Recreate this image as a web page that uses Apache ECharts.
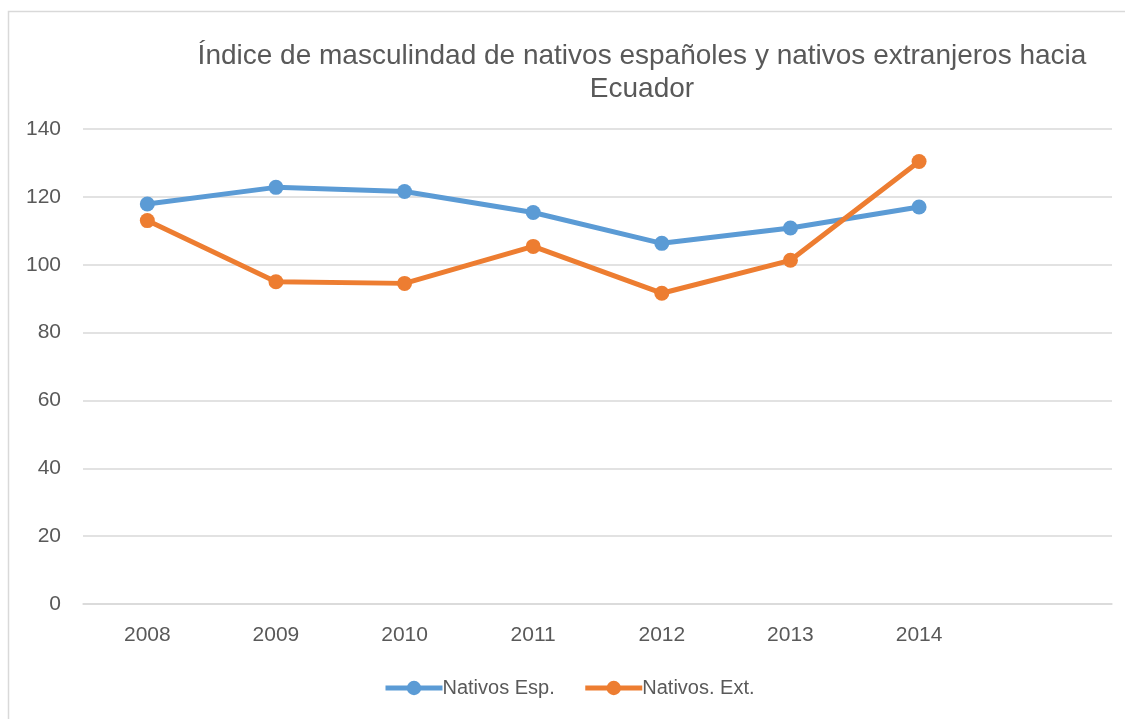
<!DOCTYPE html>
<html lang="es">
<head>
    <meta charset="UTF-8">
    <title>Índice de masculinidad</title>
    <script src="https://cdn.jsdelivr.net/npm/echarts@6/dist/echarts.min.js"></script>
</head>
<style>
    * {
        margin: 0px;
        padding: 0px;
    }
    html, body {
        width: 100%;
        height: 100%;
        overflow: hidden;
        background: #fff;
    }
    .container {
        width: 1125px;
        height: 719px;
    }
</style>
<body>
    <div class="container"></div>
</body>
<script>
    // años (la última categoría queda vacía, como en el original)
    let years = ['2008', '2009', '2010', '2011', '2012', '2013', '2014', ''];
    let nativosEsp = [117.9, 122.8, 121.6, 115.4, 106.3, 110.8, 117.0];
    let nativosExt = [113.0, 95.0, 94.5, 105.4, 91.6, 101.3, 130.4];

    let container = document.querySelector('.container');
    let mycharts = echarts.init(container);

    let txt = '#595959';
    let font = '"Liberation Sans", Arial, sans-serif';

    let option = {
        backgroundColor: '#fff',
        animation: false,
        title: {
            text: 'Índice de masculindad de nativos españoles y nativos extranjeros hacia\nEcuador',
            left: 637,
            top: 35,
            textAlign: 'center',
            textStyle: {
                fontFamily: font,
                fontWeight: 'normal',
                fontSize: 28,
                lineHeight: 33,
                color: txt
            }
        },
        legend: {
            data: ['Nativos Esp.', 'Nativos. Ext.'],
            left: 383,
            top: 678,
            padding: 0,
            itemWidth: 57,
            itemHeight: 18,
            itemGap: 28,
            lineStyle: { width: 5 },
            textStyle: {
                fontFamily: font,
                fontSize: 20,
                color: txt,
                padding: [0, 0, 0, -5]
            }
        },
        grid: {
            left: 83,
            right: 13,
            top: 129,
            bottom: 115,
            containLabel: false
        },
        xAxis: {
            type: 'category',
            data: years,
            boundaryGap: true,
            axisLine: { lineStyle: { color: '#d9d9d9', width: 1.5 } },
            axisTick: { show: false },
            axisLabel: {
                fontFamily: font,
                fontSize: 21,
                color: txt,
                margin: 21
            }
        },
        yAxis: {
            type: 'value',
            min: 0,
            max: 140,
            interval: 20,
            axisLine: { show: false },
            axisTick: { show: false },
            axisLabel: {
                fontFamily: font,
                fontSize: 21,
                color: txt,
                margin: 22
            },
            splitLine: { lineStyle: { color: '#d9d9d9', width: 1.5 } }
        },
        series: [
            {
                name: 'Nativos Esp.',
                type: 'line',
                data: nativosEsp,
                symbol: 'circle',
                symbolSize: 15,
                color: '#5b9bd5',
                lineStyle: { width: 5 }
            },
            {
                name: 'Nativos. Ext.',
                type: 'line',
                data: nativosExt,
                symbol: 'circle',
                symbolSize: 15,
                color: '#ed7d31',
                lineStyle: { width: 5 }
            }
        ],
        graphic: [
            {
                type: 'rect',
                shape: { x: 8.5, y: 11.5, width: 1130, height: 720 },
                style: { fill: 'none', stroke: '#d9d9d9', lineWidth: 1.5 },
                silent: true
            }
        ]
    };
    mycharts.setOption(option);
</script>
</html>
